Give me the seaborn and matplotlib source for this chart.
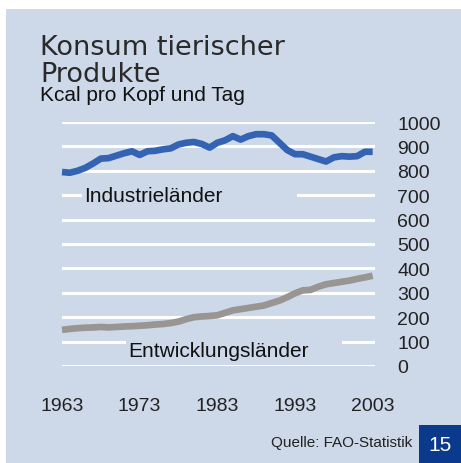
import seaborn as sns
import matplotlib.pyplot as plt
import pandas as pd
from matplotlib.patches import Rectangle

years = list(range(1963, 2004))
industrie = [795, 792, 800, 812, 830, 850, 852, 862, 872, 880,
             865, 880, 882, 888, 892, 908, 915, 918, 910, 895,
             915, 925, 942, 928, 942, 950, 950, 945, 915, 885,
             868, 868, 858, 848, 838, 855, 860, 858, 860, 878, 878]
entwicklung = [148, 152, 155, 157, 158, 160, 158, 160, 162, 163,
               165, 167, 170, 172, 176, 182, 192, 200, 203, 205,
               208, 218, 228, 233, 238, 243, 248, 258, 268, 282,
               298, 310, 312, 325, 335, 340, 345, 350, 357, 363, 370]
yticks = [0, 100, 200, 300, 400, 500, 600, 700, 800, 900, 1000]
xticks = [1963, 1973, 1983, 1993, 2003]

BG = "#cdd8e9"
W, H = 461, 464

df = pd.DataFrame({
    "Jahr": years * 2,
    "Kcal": industrie + entwicklung,
    "Gruppe": ["Industrieländer"] * len(years) + ["Entwicklungsländer"] * len(years),
})

sns.set_style("white")
plt.rcParams["font.family"] = ["Liberation Sans", "DejaVu Sans"]

fig = plt.figure(figsize=(W / 100, H / 100), dpi=100)
fig.patch.set_facecolor("white")
fig.patches.append(Rectangle((6 / W, 0), 1 - 6 / W, 1 - 10 / H,
                             transform=fig.transFigure, facecolor=BG,
                             edgecolor="none", zorder=-10))

ax = fig.add_axes([62 / W, 1 - 367 / H, 313 / W, 244 / H])
ax.set_facecolor("none")

sns.lineplot(data=df, x="Jahr", y="Kcal", hue="Gruppe",
             palette={"Industrieländer": "#3563b3", "Entwicklungsländer": "#989593"},
             linewidth=4.8, legend=False, ax=ax)
for ln in ax.lines:
    ln.set_clip_on(False)
    ln.set_solid_capstyle("butt")
    ln.set_solid_joinstyle("round")

ax.set_xlim(1963, 2003.3)
ax.set_ylim(0, 1000)
ax.set_yticks(yticks)
ax.set_xticks(xticks)
ax.yaxis.tick_right()
ax.tick_params(axis="y", length=0, pad=16, labelsize=14, labelcolor="#222222")
ax.tick_params(axis="x", length=0, pad=22, labelsize=14, labelcolor="#222222")
for lab in ax.get_yticklabels():
    lab.set_horizontalalignment("left")
ax.grid(axis="y", color="white", linewidth=2.2)
ax.grid(axis="x", visible=False)
ax.set_axisbelow(True)
for s in ax.spines.values():
    s.set_visible(False)
ax.set_xlabel("")
ax.set_ylabel("")

# Aussparungen in den Gitterlinien hinter den Beschriftungen
ax.add_patch(Rectangle((1965.6, 680), 27.7, 40, facecolor=BG, edgecolor="none", zorder=1))
ax.add_patch(Rectangle((1971.3, 80), 27.8, 40, facecolor=BG, edgecolor="none", zorder=1))
ax.text(1965.9, 700, "Industrieländer", fontsize=15, color="#111111",
        va="center", ha="left", zorder=3)
ax.text(1971.5, 62, "Entwicklungsländer", fontsize=15, color="#111111",
        va="center", ha="left", zorder=3)

fig.text(40 / W, 1 - 55 / H, "Konsum tierischer", fontsize=19.5,
         family="DejaVu Sans", color="#2a2a2a", va="baseline")
fig.text(40 / W, 1 - 82 / H, "Produkte", fontsize=19.5,
         family="DejaVu Sans", color="#2a2a2a", va="baseline")
fig.text(40 / W, 1 - 101 / H, "Kcal pro Kopf und Tag", fontsize=15,
         color="#111111", va="baseline")

fig.text(412 / W, 1 - 443 / H, "Quelle: FAO-Statistik", fontsize=11,
         color="#222222", ha="right", va="center")
fig.patches.append(Rectangle((419 / W, 0), 42 / W, 38 / H,
                             transform=fig.transFigure, facecolor="#0b3a8c",
                             edgecolor="none"))
fig.text(440 / W, 1 - 446 / H, "15", fontsize=15, color="white",
         ha="center", va="center")

fig.savefig("out.png", dpi=100)
